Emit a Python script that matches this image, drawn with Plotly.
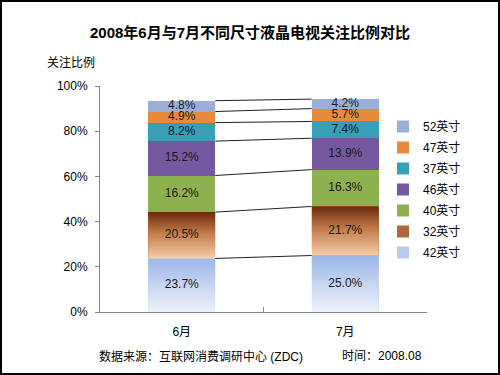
import plotly.graph_objects as go

# ---------------- data ----------------
months = ["6月", "7月"]
series_names = ["42英寸", "32英寸", "40英寸", "46英寸", "37英寸", "47英寸", "52英寸"]  # bottom -> top
v42 = [23.7, 25.0]
v32 = [20.5, 21.7]
v40 = [16.2, 16.3]
v46 = [15.2, 13.9]
v37 = [8.2, 7.4]
v47 = [4.9, 5.7]
v52 = [4.8, 4.2]
y_ticks = [0, 20, 40, 60, 80, 100]
y_tick_labels = ["0%", "20%", "40%", "60%", "80%", "100%"]

title_text = "2008年6月与7月不同尺寸液晶电视关注比例对比"
y_title = "关注比例"
source_text = "数据来源：互联网消费调研中心 (ZDC)"
time_text = "时间：2008.08"

# ---------------- style ----------------
FONT = "Liberation Sans, Arial, Noto Sans CJK SC, sans-serif"
colors = {
    "42英寸": "#b9cbef",
    "32英寸": "#b0673a",
    "40英寸": "#8eb150",
    "46英寸": "#75589f",
    "37英寸": "#379fb6",
    "47英寸": "#e88a3c",
    "52英寸": "#9aafd7",
}
gradients = {
    "42英寸": [[0, "#eef2fb"], [1, "#9cb7e7"]],
    "32英寸": [[0, "#f6cdab"], [0.55, "#c27a48"], [1, "#6a2a0a"]],
}
bar_w = 0.41

values = [v42, v32, v40, v46, v37, v47, v52]

fig = go.Figure()

# stacked bars (category axis)
n_series = len(series_names)
for i, (name, vals) in enumerate(zip(series_names, values)):
    fig.add_trace(go.Bar(
        x=months, y=vals, name=name, width=bar_w, legendgroup=name,
        legendrank=(n_series - i) * 10,
        marker=dict(color=colors[name], line=dict(width=0)),
        textposition="none", hoverinfo="name+y",
    ))

# cumulative bases
bases = []
cum = [0.0 for _ in months]
for vals in values:
    bases.append(list(cum))
    cum = [c + v for c, v in zip(cum, vals)]

# gradient overlays for 42 / 32 (numeric overlay axis x2)
for si, name in enumerate(series_names):
    if name not in gradients:
        continue
    for ci in range(len(months)):
        b = bases[si][ci]
        t = b + values[si][ci]
        x0, x1 = ci - bar_w / 2, ci + bar_w / 2
        fig.add_trace(go.Scatter(
            x=[x0, x1, x1, x0, x0], y=[b, b, t, t, b],
            xaxis="x2", mode="lines", line=dict(width=0),
            fill="toself",
            fillgradient=dict(type="vertical", colorscale=gradients[name], start=b, stop=t),
            showlegend=False, hoverinfo="skip",
        ))

# series connector lines between the two bars
for si in range(len(series_names)):
    tops = [bases[si][ci] + values[si][ci] for ci in range(len(months))]
    fig.add_trace(go.Scatter(
        x=[0 + bar_w / 2, 1 - bar_w / 2], y=tops, xaxis="x2",
        mode="lines", line=dict(color="#222222", width=1),
        showlegend=False, hoverinfo="skip",
    ))

# data labels
lx, ly, lt = [], [], []
for si in range(len(series_names)):
    for ci in range(len(months)):
        lx.append(ci)
        ly.append(bases[si][ci] + values[si][ci] / 2)
        lt.append(f"{values[si][ci]:.1f}%")
fig.add_trace(go.Scatter(
    x=lx, y=ly, text=lt, xaxis="x2", mode="text",
    textfont=dict(family=FONT, size=12, color="#1a1a1a"),
    showlegend=False, hoverinfo="skip",
))

L, R, T, B = 100, 73, 86, 63
PW, PH = 500 - L - R, 375 - T - B

fig.update_layout(
    width=500, height=375,
    margin=dict(l=L, r=R, t=T, b=B, pad=0),
    barmode="stack",
    paper_bgcolor="white", plot_bgcolor="white",
    font=dict(family=FONT, size=12, color="#000000"),
    title=dict(text=f"<b>{title_text}</b>", x=0.5, xanchor="center",
               y=1 - 33 / 375, yanchor="middle", yref="container",
               font=dict(family=FONT, size=15, color="#000000")),
    xaxis=dict(type="category", showgrid=False, showline=True, linecolor="#878787",
               linewidth=1, ticks="inside", ticklen=5, tickcolor="#878787",
               tickson="boundaries", range=[-0.5, 1.5], ticklabelstandoff=9,
               tickfont=dict(family=FONT, size=12, color="#000000")),
    xaxis2=dict(overlaying="x", range=[-0.5, 1.5], visible=False),
    yaxis=dict(range=[0, 100], tickvals=y_ticks, ticktext=y_tick_labels, showgrid=False,
               showline=True, linecolor="#878787", linewidth=1, ticks="outside",
               ticklen=4, tickcolor="#878787", zeroline=False, ticklabelstandoff=5,
               tickfont=dict(family=FONT, size=12, color="#000000")),
    legend=dict(traceorder="grouped", x=(383 - L) / PW, xanchor="left",
                y=(312 - 112) / PH, yanchor="top",
                font=dict(family=FONT, size=12, color="#000000"),
                bgcolor="rgba(0,0,0,0)", tracegroupgap=2),
    showlegend=True,
)

fig.add_annotation(text=y_title, xref="paper", yref="paper",
                   x=(45 - L) / PW, y=(312 - 63) / PH, xanchor="left", yanchor="middle",
                   showarrow=False, font=dict(family=FONT, size=12, color="#000000"))
fig.add_annotation(text=source_text, xref="paper", yref="paper",
                   x=(97 - L) / PW, y=(312 - 356) / PH, xanchor="left", yanchor="middle",
                   showarrow=False, font=dict(family=FONT, size=12, color="#000000"))
fig.add_annotation(text=time_text, xref="paper", yref="paper",
                   x=(340 - L) / PW, y=(312 - 356) / PH, xanchor="left", yanchor="middle",
                   showarrow=False, font=dict(family=FONT, size=12, color="#000000"))

# outer frame
fig.add_shape(type="rect", xref="paper", yref="paper",
              x0=(1 - L) / PW, x1=(499 - L) / PW,
              y0=(312 - 374) / PH, y1=(312 - 1) / PH,
              line=dict(color="#000000", width=2), fillcolor="rgba(0,0,0,0)")

fig.write_html("out.html", config={"displayModeBar": False},
               post_script="document.body.style.margin='0';")
